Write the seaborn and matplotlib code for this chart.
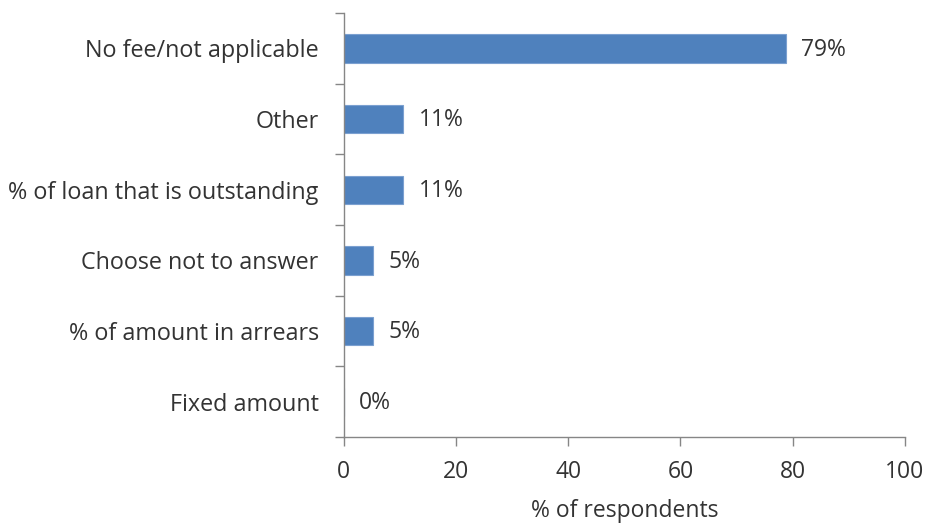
import pandas as pd
import seaborn as sns
import matplotlib.pyplot as plt

# Survey answers (bar lengths)
categories = ['No fee/not applicable', 'Other', '% of loan that is outstanding',
              'Choose not to answer', '% of amount in arrears', 'Fixed amount']
values = [78.8, 10.6, 10.6, 5.3, 5.3, 0.0]
x_ticks = [0, 20, 40, 60, 80, 100]

df = pd.DataFrame({'Category': categories, 'Value': values})

sns.set_style('white')
plt.rcParams['font.family'] = ['Open Sans', 'DejaVu Sans']

fig = plt.figure(figsize=(9.29, 5.24), dpi=100)
ax = fig.add_axes([0.370, 0.166, 0.604, 0.809])

sns.barplot(data=df, x='Value', y='Category', orient='h', color='#4F81BD',
            saturation=1, width=0.4, edgecolor='#7BA0D0', linewidth=0.8, ax=ax)

# value labels
for i, v in enumerate(values):
    ax.annotate(f'{v:.0f}%', xy=(v, i), xytext=(11, -1), textcoords='offset points',
                ha='left', va='center', fontsize=16.5, color='#333333')

ax.set_xlim(0, 100)
ax.set_ylim(len(categories) - 0.5, -0.5)
ax.set_xticks(x_ticks)

# tick marks between categories, as in the original
ax.set_yticks([i - 0.5 for i in range(len(categories) + 1)], minor=True)
ax.tick_params(axis='y', which='major', length=0, pad=18, labelsize=16.8, labelcolor='#333333')
ax.tick_params(axis='y', which='minor', length=6.5, width=1, color='#868686', direction='out', left=True)
ax.tick_params(axis='x', length=6.5, width=1, color='#868686', direction='out', bottom=True,
               labelsize=16.5, labelcolor='#333333', pad=10)

for side in ['top', 'right']:
    ax.spines[side].set_visible(False)
for side in ['left', 'bottom']:
    ax.spines[side].set_color('#868686')
    ax.spines[side].set_linewidth(1)

ax.set_ylabel('')
ax.set_xlabel('% of respondents', fontsize=16.5, color='#333333', labelpad=10.5)

plt.savefig('out.png', dpi=100)
